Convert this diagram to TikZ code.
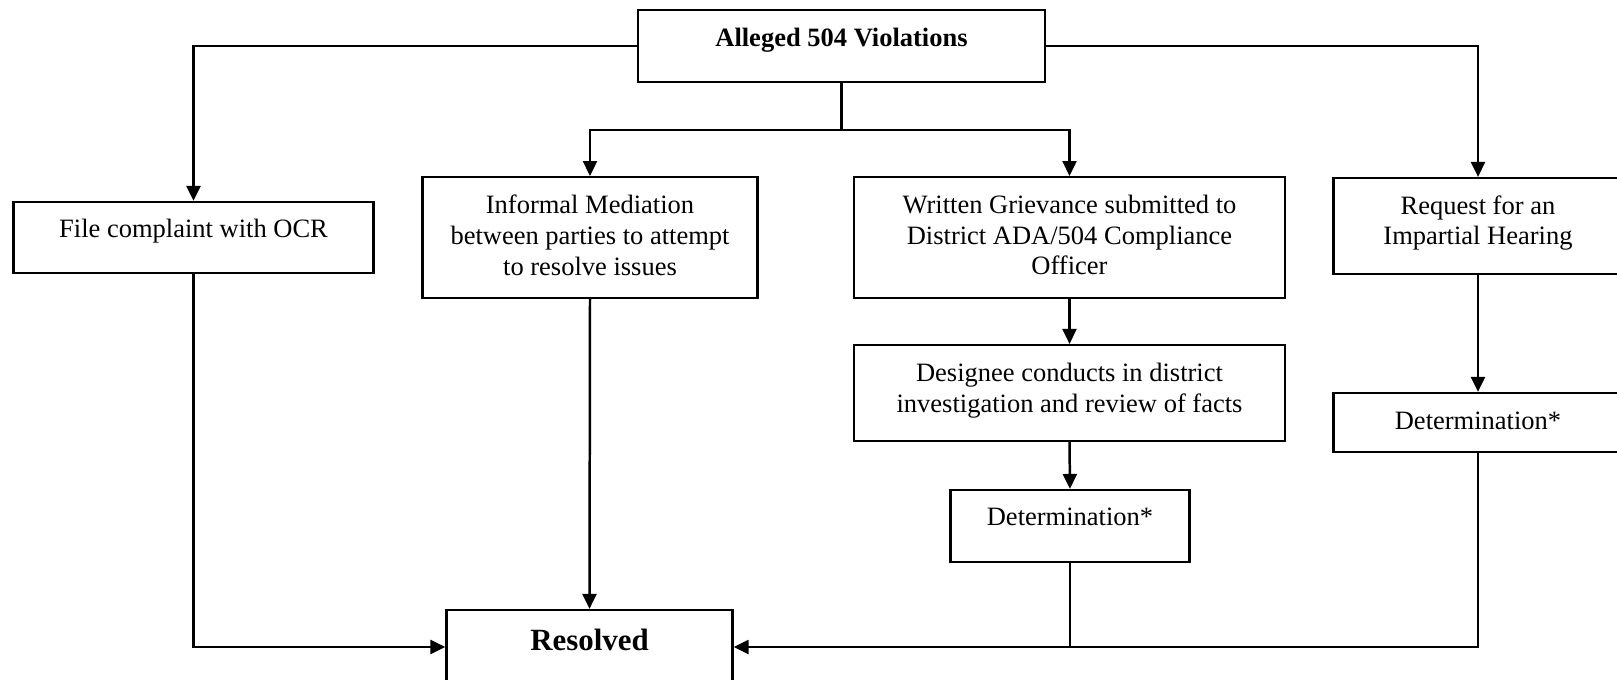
\documentclass[tikz,border=0pt]{standalone}
\usepackage{fontspec}
\setmainfont{Liberation Serif}
\usetikzlibrary{arrows.meta}
\begin{document}
\begin{tikzpicture}[x=0.5bp,y=-0.5bp,
  box/.style={draw,line width=1.25pt,rectangle,inner sep=0pt,fill=white},
  txt/.style={inner sep=0pt,align=center,font=\fontsize{13.3}{15.5}\selectfont},
  ln/.style={line width=1.25pt},
  arr/.style={line width=1.25pt,-{Triangle[width=7pt,length=7.5pt]}}]
\useasboundingbox (0,0) rectangle (1617,680);
\clip (0,0) rectangle (1617,680);
% boxes
\node[box,minimum width=204.5pt,minimum height=36pt] (top) at (841.5,46) {};
\node[txt] (topt) at (841.5,40) {\textbf{Alleged 504 Violations}};
\node[box,minimum width=180.5pt,minimum height=35.5pt] (file) at (193.5,237.5) {};
\node[txt] (filet) at (193.5,231) {File complaint with OCR};
\node[box,minimum width=168pt,minimum height=60.5pt] (inf) at (590,237.5) {};
\node[txt] (inft) at (590,235) {Informal Mediation\\between parties to attempt\\to resolve issues};
\node[box,minimum width=216.5pt,minimum height=60.5pt] (wr) at (1069.5,237.5) {};
\node[txt] (wrt) at (1069.5,235) {Written Grievance submitted to\\District ADA/504 Compliance\\Officer};
\node[box,minimum width=145pt,minimum height=48pt] (req) at (1478,226) {};
\node[txt] (reqt) at (1478,223) {Request for an\\Impartial Hearing};
\node[box,minimum width=216.5pt,minimum height=48pt] (des) at (1069.5,393) {};
\node[txt] (dest) at (1069.5,391) {Designee conducts in district\\investigation and review of facts};
\node[box,minimum width=120pt,minimum height=36pt] (dettwo) at (1070,526) {};
\node[txt] (dettwot) at (1070,517) {Determination*};
\node[box,minimum width=145pt,minimum height=29.5pt] (detthree) at (1478,422.5) {};
\node[txt] (detthreet) at (1478,421) {Determination*};
\node[box,minimum width=143.5pt,minimum height=37pt] (res) at (589.5,647) {};
\node[txt,font=\fontsize{15.5}{18}\selectfont\bfseries] (rest) at (589.5,640) {Resolved};
% connectors
\coordinate (jn) at (top.south |- 0,130);
\draw[arr] (top.west) -| (file.north);
\draw[arr] (top.east) -| (req.north);
\draw[ln] (top.south) -- (jn);
\draw[arr] (jn) -| (inf.north);
\draw[arr] (jn) -| (wr.north);
\draw[arr] (wr.south) -- (des.north);
\draw[arr] (des.south) -- (dettwo.north);
\draw[arr] (req.south) -- (detthree.north);
\draw[arr] (inf.south) -- (res.north);
\draw[arr] (file.south) |- (res.west);
\draw[arr] (detthree.south) |- (res.east);
\draw[ln] (dettwo.south) -- (dettwo.south |- res.east);
\end{tikzpicture}
\end{document}
